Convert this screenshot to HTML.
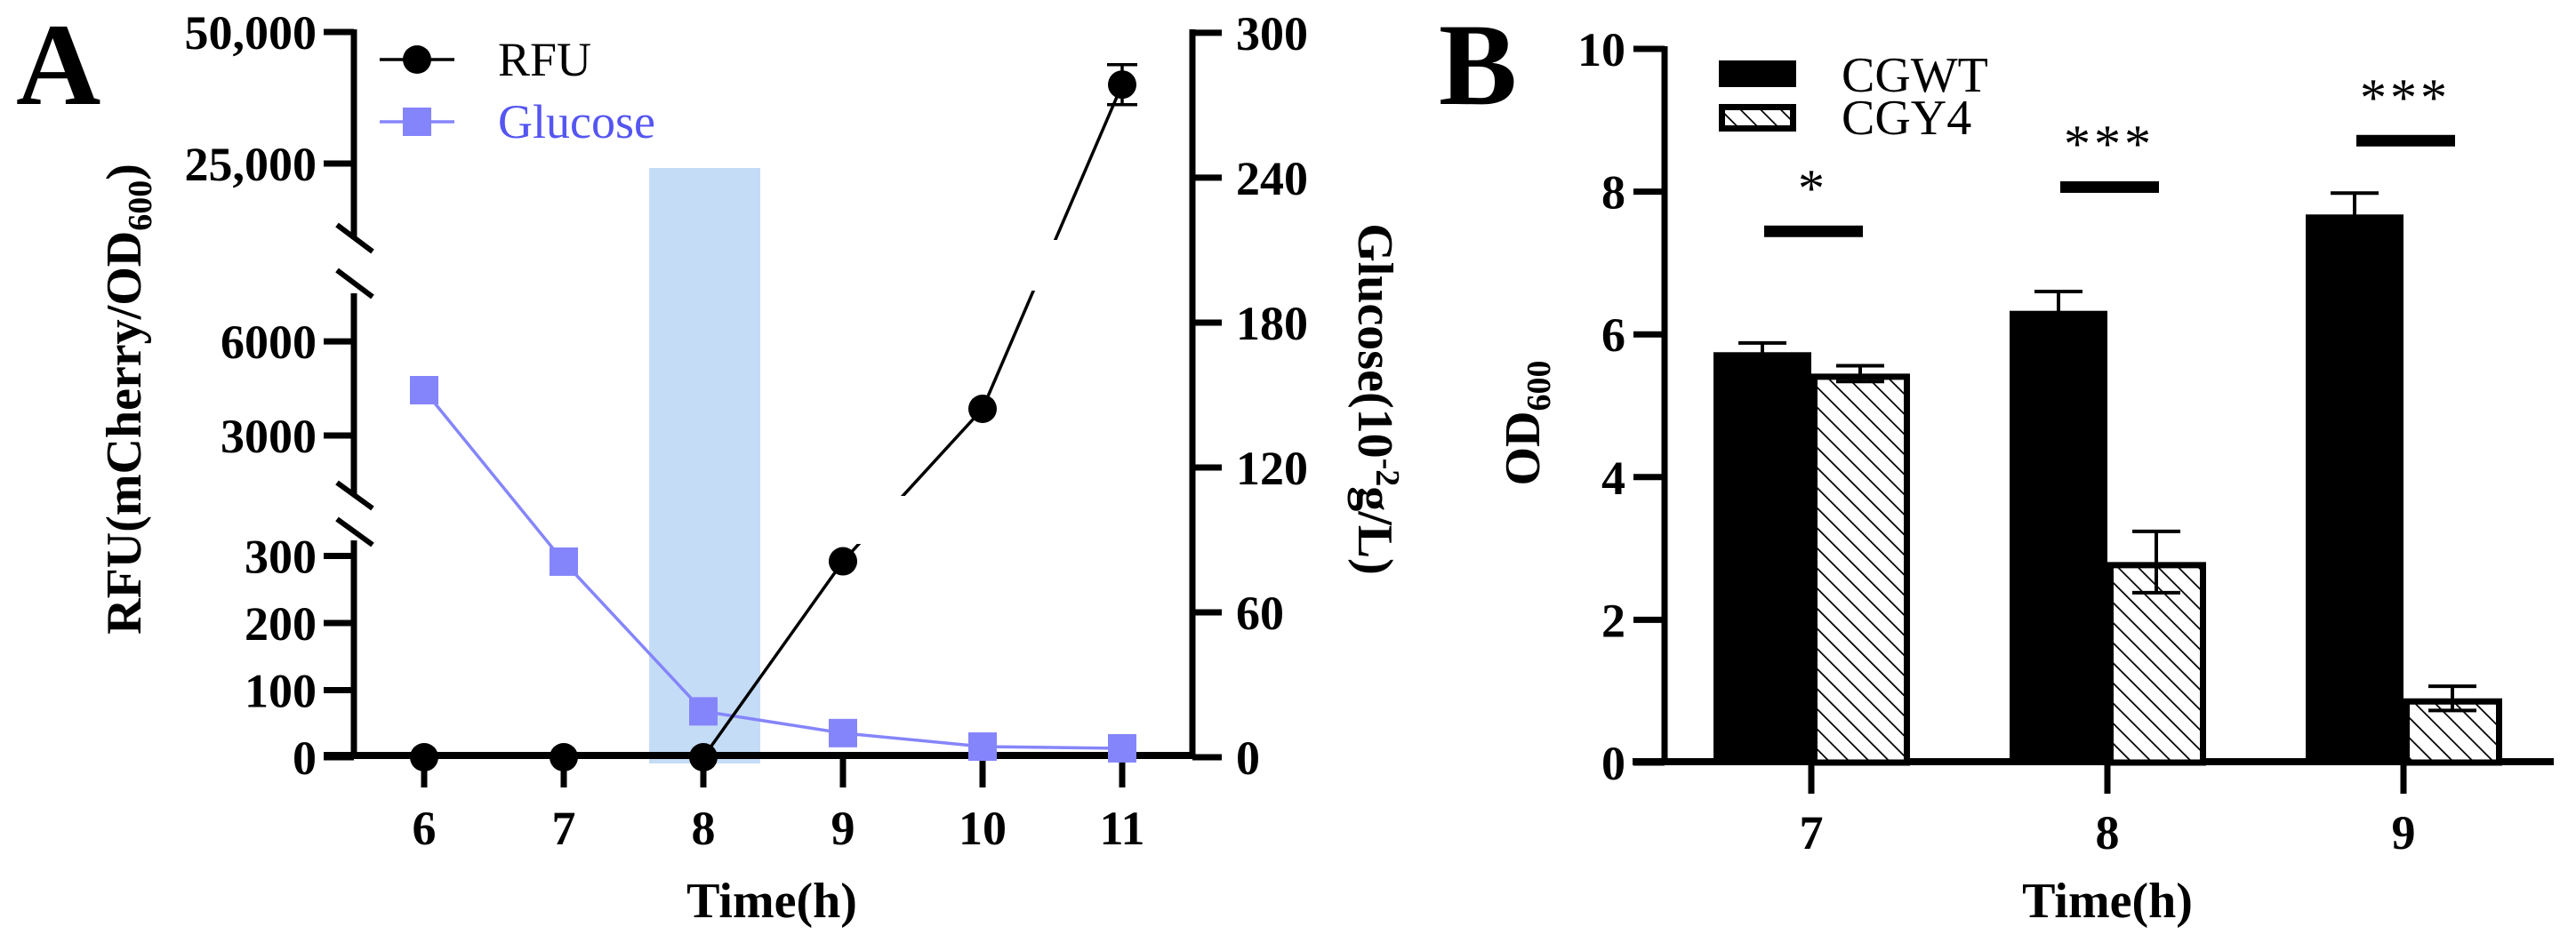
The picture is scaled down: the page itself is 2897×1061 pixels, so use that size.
<!DOCTYPE html>
<html><head><meta charset="utf-8"><style>
html,body{margin:0;padding:0;background:#fff;}
svg, svg text, svg tspan{font-family:"Liberation Serif","Times New Roman",serif;}
</style></head><body>
<svg id="fig" width="2897" height="1056" viewBox="0 0 2897 1056" xmlns="http://www.w3.org/2000/svg" font-family="Liberation Serif, serif">
<defs>
<pattern id="hatch" patternUnits="userSpaceOnUse" width="16" height="16" patternTransform="rotate(-45)">
<rect width="16" height="16" fill="#fff"/>
<line x1="0" y1="0" x2="0" y2="16" stroke="#000" stroke-width="3.5"/>
</pattern>
<clipPath id="rfuClip">
<rect x="380" y="0" width="1000" height="270"/>
<rect x="380" y="327" width="1000" height="231"/>
<rect x="380" y="612" width="1000" height="300"/>
</clipPath>
</defs>
<g id="panelA" font-family="Liberation Serif, serif"></g>
<g id="panelB" font-family="Liberation Serif, serif"></g>
</svg>
<script>
// ---------- Panel A data ----------
const timesA = [6, 7, 8, 9, 10, 11];
const rfuValues = [0, 0, 0, 292, 3850, 40000];
const rfuErrors = [0, 0, 0, 0, 0, 3800];
const glucoseValues = [152, 81, 19, 10, 4.4, 3.7];
const rfuTicksLow = [0, 100, 200, 300];
const rfuTicksMid = [3000, 6000];
const rfuTickLabelsMid = ["3000", "6000"];
const rfuTicksHigh = [25000, 50000];
const rfuTickLabelsHigh = ["25,000", "50,000"];
const glucoseTicks = [0, 60, 120, 180, 240, 300];
// ---------- Panel B data ----------
const timesB = ["7", "8", "9"];
const cgwtValues = [5.75, 6.33, 7.68];
const cgwtErrors = [0.13, 0.27, 0.30];
const cgy4Values = [5.45, 2.81, 0.90];
const cgy4Errors = [0.11, 0.43, 0.17];
const odTicks = [0, 2, 4, 6, 8, 10];
const sigLabels = ["*", "***", "***"];
const sigLevels = [7.45, 8.07, 8.72];

const NS = "http://www.w3.org/2000/svg";
function mk(parent, tag, attrs, text) {
  const e = document.createElementNS(NS, tag);
  for (const k in attrs) e.setAttribute(k, attrs[k]);
  if (tag === 'text') e.setAttribute('font-family', 'Liberation Serif, serif');
  if (text !== undefined) e.textContent = text;
  parent.appendChild(e);
  return e;
}
const A = document.getElementById('panelA');
const B = document.getElementById('panelB');

// ---- Panel A scales ----
const xA = t => 477 + (t - 6) * 157;
function yRFU(v) {
  if (v <= 1000) return 852 - v * 0.755;
  if (v <= 10000) return 490 - (v - 3000) * 0.0353;
  return 184 - (v - 25000) * 0.00592;
}
const yG = g => 852 - g * 2.717;

let el = mk(A, 'rect', {x: 730, y: 189, width: 125, height: 670, fill: '#c5dcf6'});



const ax = mk(A, 'g', {stroke: '#000', 'stroke-width': 7, fill: 'none'});


mk(ax, 'line', {x1: 398, y1: 33, x2: 398, y2: 268});
mk(ax, 'line', {x1: 398, y1: 330, x2: 398, y2: 558});
mk(ax, 'line', {x1: 398, y1: 608, x2: 398, y2: 854});
[[253, 283], [304, 334], [543, 572], [584, 613]].forEach(b => {
  mk(ax, 'line', {x1: 379, y1: b[0], x2: 419, y2: b[1], 'stroke-width': 6});
});
mk(ax, 'line', {x1: 364, y1: 850, x2: 1344, y2: 850, 'stroke-width': 8});
mk(ax, 'line', {x1: 1341, y1: 33, x2: 1341, y2: 854});

const tickG = mk(A, 'g', {'font-size': 54, 'font-weight': 'bold', 'text-anchor': 'end'});


function leftTick(v, label) {
  const y = yRFU(v);
  mk(tickG, 'line', {x1: 364, y1: y, x2: 398, y2: y, stroke: '#000', 'stroke-width': 7});
  mk(tickG, 'text', {x: 356, y: y + 19}, label);
}
rfuTicksLow.forEach(v => leftTick(v, String(v)));
rfuTicksMid.forEach((v, i) => leftTick(v, rfuTickLabelsMid[i]));
rfuTicksHigh.forEach((v, i) => leftTick(v, rfuTickLabelsHigh[i]));

const rt = mk(A, 'g', {'font-size': 54, 'font-weight': 'bold'});


glucoseTicks.forEach(g => {
  const y = yG(g);
  mk(rt, 'line', {x1: 1341, y1: y, x2: 1374, y2: y, stroke: '#000', 'stroke-width': 7});
  mk(rt, 'text', {x: 1390, y: y + 19}, String(g));
});

const xt = mk(A, 'g', {'font-size': 54, 'font-weight': 'bold', 'text-anchor': 'middle'});


timesA.forEach(t => {
  mk(xt, 'line', {x1: xA(t), y1: 850, x2: xA(t), y2: 886, stroke: '#000', 'stroke-width': 7});
  mk(xt, 'text', {x: xA(t), y: 950}, String(t));
});

const gp = timesA.map((t, i) => xA(t) + ',' + yG(glucoseValues[i])).join(' ');
el = mk(A, 'polyline', {points: gp, fill: 'none', stroke: '#8585fb', 'stroke-width': 3.5});


timesA.forEach((t, i) => {
  const s = mk(A, 'rect', {x: xA(t) - 16, y: yG(glucoseValues[i]) - 16, width: 32, height: 32, fill: '#8585fb'});
  
  
});

const rp = timesA.map((t, i) => xA(t) + ',' + yRFU(rfuValues[i])).join(' ');
el = mk(A, 'polyline', {points: rp, fill: 'none', stroke: '#000', 'stroke-width': 3.5, 'clip-path': 'url(#rfuClip)'});


timesA.forEach((t, i) => {
  const v = rfuValues[i], e = rfuErrors[i];
  if (e > 0) {
    const y1 = yRFU(v + e), y2 = yRFU(v - e);
    const eb = mk(A, 'path', {d: `M${xA(t)-17},${y1}H${xA(t)+17}M${xA(t)},${y1}V${y2}M${xA(t)-17},${y2}H${xA(t)+17}`, stroke: '#000', 'stroke-width': 3.5, fill: 'none'});
    
    
  }
  const c = mk(A, 'circle', {cx: xA(t), cy: yRFU(v), r: 16, fill: '#000'});
  
  
});

const lg = mk(A, 'g', {});


mk(lg, 'line', {x1: 427, y1: 67, x2: 511, y2: 67, stroke: '#000', 'stroke-width': 3.5});
mk(lg, 'circle', {cx: 469, cy: 67, r: 16, fill: '#000'});
mk(lg, 'text', {x: 560, y: 85, 'font-size': 54}, 'RFU');
mk(lg, 'line', {x1: 427, y1: 137, x2: 511, y2: 137, stroke: '#8585fb', 'stroke-width': 3.5});
mk(lg, 'rect', {x: 453, y: 121, width: 32, height: 32, fill: '#8585fb'});
mk(lg, 'text', {x: 560, y: 155, 'font-size': 54, fill: '#5555f2'}, 'Glucose');

el = mk(A, 'text', {x: 18, y: 117, 'font-size': 132, 'font-weight': 'bold'}, 'A');


el = mk(A, 'text', {x: 0, y: 0, 'font-size': 56, 'font-weight': 'bold', 'text-anchor': 'middle', transform: 'translate(158,449) rotate(-90)'});


el.innerHTML = 'RFU(mCherry/OD<tspan font-size="38" dy="12">600</tspan><tspan dy="-12">)</tspan>';
el = mk(A, 'text', {x: 0, y: 0, 'font-size': 56, 'font-weight': 'bold', 'text-anchor': 'middle', transform: 'translate(1528,449) rotate(90)'});


el.innerHTML = 'Glucose(10<tspan font-size="38" dy="-20">-2</tspan><tspan dy="20">g/L)</tspan>';
el = mk(A, 'text', {x: 868, y: 1032, 'font-size': 56, 'font-weight': 'bold', 'text-anchor': 'middle'}, 'Time(h)');



// ---- Panel B ----
const xB = i => 2037 + i * 333;
const yB = v => 858 - v * 80.3;
const axB = mk(B, 'g', {stroke: '#000', 'stroke-width': 7});


mk(axB, 'line', {x1: 1872, y1: 52, x2: 1872, y2: 861});
mk(axB, 'line', {x1: 1836, y1: 857, x2: 2872, y2: 857, 'stroke-width': 8});
const ytB = mk(B, 'g', {'font-size': 54, 'font-weight': 'bold', 'text-anchor': 'end'});


odTicks.forEach(v => {
  mk(ytB, 'line', {x1: 1837, y1: yB(v), x2: 1872, y2: yB(v), stroke: '#000', 'stroke-width': 7});
  mk(ytB, 'text', {x: 1828, y: yB(v) + 19}, String(v));
});
const xtB = mk(B, 'g', {'font-size': 54, 'font-weight': 'bold', 'text-anchor': 'middle'});


timesB.forEach((t, i) => {
  mk(xtB, 'line', {x1: xB(i), y1: 857, x2: xB(i), y2: 893, stroke: '#000', 'stroke-width': 7});
  mk(xtB, 'text', {x: xB(i), y: 955}, t);
});
function errBar(cx, v, e, name) {
  const y1 = yB(v + e), y2 = yB(v - e);
  const p = mk(B, 'path', {d: `M${cx-27},${y1}H${cx+27}M${cx},${y1}V${y2}M${cx-27},${y2}H${cx+27}`, stroke: '#000', 'stroke-width': 4, fill: 'none'});
  
  
}
timesB.forEach((t, i) => {
  const t0 = xB(i);
  let r = mk(B, 'rect', {x: t0 - 110, y: yB(cgwtValues[i]), width: 110, height: yB(0) - yB(cgwtValues[i]), fill: '#000'});
  
  
  errBar(t0 - 55, cgwtValues[i], cgwtErrors[i], 'error-bar-cgwt');
  r = mk(B, 'rect', {x: t0 + 3.5, y: yB(cgy4Values[i]) + 3.5, width: 104, height: yB(0) - yB(cgy4Values[i]) - 3.5, fill: 'url(#hatch)', stroke: '#000', 'stroke-width': 7});
  
  
  errBar(t0 + 55, cgy4Values[i], cgy4Errors[i], 'error-bar-cgy4');
  const sx = t0 + 2;
  r = mk(B, 'rect', {x: sx - 55, y: yB(sigLevels[i]) - 6, width: 111, height: 13, fill: '#000'});
  
  
  r = mk(B, 'text', {x: sx, y: yB(sigLevels[i]) - 28, 'font-size': 60, 'text-anchor': 'middle', 'letter-spacing': 4}, sigLabels[i]);
  
  
});
const lgB = mk(B, 'g', {'font-size': 56});


mk(lgB, 'rect', {x: 1933, y: 68, width: 87, height: 30, fill: '#000'});
mk(lgB, 'text', {x: 2071, y: 103}, 'CGWT');
mk(lgB, 'rect', {x: 1936.5, y: 120.5, width: 80, height: 24, fill: 'url(#hatch)', stroke: '#000', 'stroke-width': 7});
mk(lgB, 'text', {x: 2071, y: 151}, 'CGY4');
el = mk(B, 'text', {x: 1618, y: 117, 'font-size': 132, 'font-weight': 'bold'}, 'B');


el = mk(B, 'text', {x: 0, y: 0, 'font-size': 56, 'font-weight': 'bold', 'text-anchor': 'middle', transform: 'translate(1731,476) rotate(-90)'});


el.innerHTML = 'OD<tspan font-size="38" dy="12">600</tspan>';
el = mk(B, 'text', {x: 2370, y: 1032, 'font-size': 56, 'font-weight': 'bold', 'text-anchor': 'middle'}, 'Time(h)');


</script>
</body></html>
